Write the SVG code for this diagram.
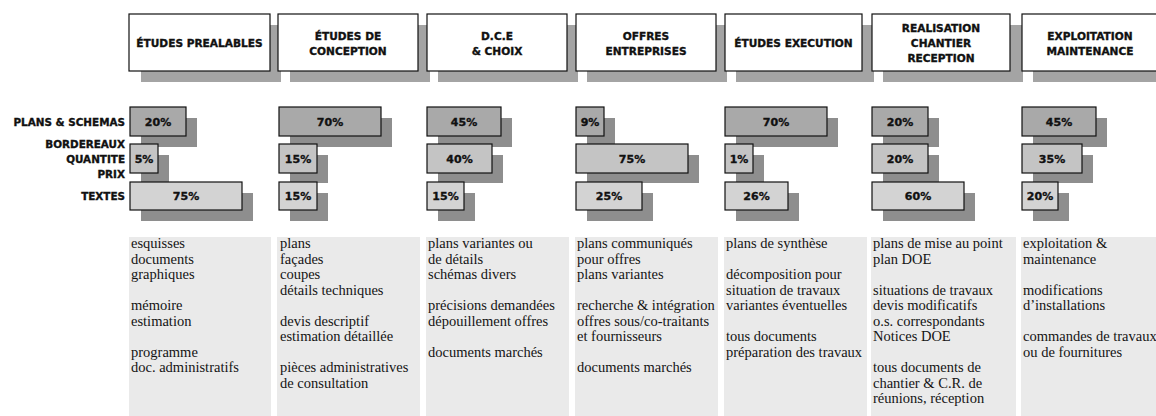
<svg xmlns="http://www.w3.org/2000/svg" width="1156" height="416" viewBox="0 0 1156 416">
<style>
.hbox{fill:#fff;stroke:#111;stroke-width:1.2}
.hsh{fill:#a4a4a4}
.ht{font-family:"DejaVu Sans",sans-serif;font-weight:bold;font-size:10.6px;fill:#111;stroke:#111;stroke-width:0.35;text-anchor:middle}
.lab{font-family:"DejaVu Sans",sans-serif;font-weight:bold;font-size:10.4px;fill:#111;stroke:#111;stroke-width:0.35;text-anchor:end}
.pct{font-family:"DejaVu Sans",sans-serif;font-weight:bold;font-size:11px;fill:#111;stroke:#111;stroke-width:0.35;text-anchor:middle}
.bsh{fill:#8e8e8e}
.b1{fill:#a9a9a9;stroke:#111;stroke-width:1.2}
.b2{fill:#c4c4c4;stroke:#111;stroke-width:1.2}
.b3{fill:#d3d3d3;stroke:#111;stroke-width:1.2}
.pan{fill:#eaeaea}
.tx{font-family:"Liberation Serif","Times New Roman",serif;font-size:14.5px;fill:#141414}
</style>
<rect width="1156" height="416" fill="#fff"/>

<g id="header-shadows">
<rect class="hsh" x="141" y="25" width="140" height="57"/>
<rect class="hsh" x="290" y="25" width="140" height="57"/>
<rect class="hsh" x="438" y="25" width="140" height="57"/>
<rect class="hsh" x="587" y="25" width="140" height="57"/>
<rect class="hsh" x="736" y="25" width="138" height="57"/>
<rect class="hsh" x="883" y="25" width="140" height="57"/>
<rect class="hsh" x="1033" y="25" width="140" height="57"/>
</g>

<g id="h1"><rect class="hbox" x="129" y="14" width="141" height="57"/><text class="ht" x="199.5" y="47">ÉTUDES PREALABLES</text></g>
<g id="h2"><rect class="hbox" x="278" y="14" width="140" height="57"/><text class="ht" x="348" y="39.5">ÉTUDES DE</text><text class="ht" x="348" y="54.5">CONCEPTION</text></g>
<g id="h3"><rect class="hbox" x="427" y="14" width="140" height="57"/><text class="ht" x="497" y="39.5">D.C.E</text><text class="ht" x="497" y="54.5">&amp; CHOIX</text></g>
<g id="h4"><rect class="hbox" x="576" y="14" width="140" height="57"/><text class="ht" x="646" y="39.5">OFFRES</text><text class="ht" x="646" y="54.5">ENTREPRISES</text></g>
<g id="h5"><rect class="hbox" x="725" y="14" width="137" height="57"/><text class="ht" x="793.5" y="47">ÉTUDES EXECUTION</text></g>
<g id="h6"><rect class="hbox" x="872" y="14" width="138" height="57"/><text class="ht" x="941" y="31.5">REALISATION</text><text class="ht" x="941" y="46.5">CHANTIER</text><text class="ht" x="941" y="61.5">RECEPTION</text></g>
<g id="h7"><rect class="hbox" x="1022" y="14" width="140" height="57"/><text class="ht" x="1090" y="39.5">EXPLOITATION</text><text class="ht" x="1090" y="54.5">MAINTENANCE</text></g>

<g id="row-labels">
<text class="lab" x="125" y="126">PLANS &amp; SCHEMAS</text>
<text class="lab" x="125" y="148">BORDEREAUX</text>
<text class="lab" x="125" y="163">QUANTITE</text>
<text class="lab" x="125" y="178">PRIX</text>
<text class="lab" x="125" y="200">TEXTES</text>
</g>

<g id="bars-row1">
<rect class="bsh" x="141" y="118" width="56" height="29"/><rect class="b1" x="130" y="107" width="56" height="29"/><text class="pct" x="158" y="125.5">20%</text>
<rect class="bsh" x="290" y="118" width="102" height="29"/><rect class="b1" x="279" y="107" width="102" height="29"/><text class="pct" x="330" y="125.5">70%</text>
<rect class="bsh" x="438" y="118" width="74" height="29"/><rect class="b1" x="427" y="107" width="74" height="29"/><text class="pct" x="464" y="125.5">45%</text>
<rect class="bsh" x="587" y="118" width="28" height="29"/><rect class="b1" x="576" y="107" width="28" height="29"/><text class="pct" x="590" y="125.5">9%</text>
<rect class="bsh" x="736" y="118" width="102" height="29"/><rect class="b1" x="725" y="107" width="102" height="29"/><text class="pct" x="776" y="125.5">70%</text>
<rect class="bsh" x="883" y="118" width="56" height="29"/><rect class="b1" x="872" y="107" width="56" height="29"/><text class="pct" x="900" y="125.5">20%</text>
<rect class="bsh" x="1033" y="118" width="74" height="29"/><rect class="b1" x="1022" y="107" width="74" height="29"/><text class="pct" x="1059" y="125.5">45%</text>
</g>
<g id="bars-row2">
<rect class="bsh" x="141" y="155" width="28" height="28"/><rect class="b2" x="130" y="144" width="28" height="29"/><text class="pct" x="144" y="162.5">5%</text>
<rect class="bsh" x="290" y="155" width="38" height="28"/><rect class="b2" x="279" y="144" width="38" height="29"/><text class="pct" x="298" y="162.5">15%</text>
<rect class="bsh" x="438" y="155" width="65" height="28"/><rect class="b2" x="427" y="144" width="65" height="29"/><text class="pct" x="459.5" y="162.5">40%</text>
<rect class="bsh" x="587" y="155" width="112" height="28"/><rect class="b2" x="576" y="144" width="112" height="29"/><text class="pct" x="632" y="162.5">75%</text>
<rect class="bsh" x="736" y="155" width="28" height="28"/><rect class="b2" x="725" y="144" width="28" height="29"/><text class="pct" x="739" y="162.5">1%</text>
<rect class="bsh" x="883" y="155" width="56" height="28"/><rect class="b2" x="872" y="144" width="56" height="29"/><text class="pct" x="900" y="162.5">20%</text>
<rect class="bsh" x="1033" y="155" width="60" height="28"/><rect class="b2" x="1022" y="144" width="60" height="29"/><text class="pct" x="1052" y="162.5">35%</text>
</g>
<g id="bars-row3">
<rect class="bsh" x="141" y="193" width="112" height="28"/><rect class="b3" x="130" y="182" width="112" height="28"/><text class="pct" x="186" y="200">75%</text>
<rect class="bsh" x="290" y="193" width="38" height="28"/><rect class="b3" x="279" y="182" width="38" height="28"/><text class="pct" x="298" y="200">15%</text>
<rect class="bsh" x="438" y="193" width="37" height="28"/><rect class="b3" x="427" y="182" width="37" height="28"/><text class="pct" x="445.5" y="200">15%</text>
<rect class="bsh" x="587" y="193" width="66" height="28"/><rect class="b3" x="576" y="182" width="66" height="28"/><text class="pct" x="609" y="200">25%</text>
<rect class="bsh" x="736" y="193" width="63" height="28"/><rect class="b3" x="725" y="182" width="63" height="28"/><text class="pct" x="756.5" y="200">26%</text>
<rect class="bsh" x="883" y="193" width="92" height="28"/><rect class="b3" x="872" y="182" width="92" height="28"/><text class="pct" x="918" y="200">60%</text>
<rect class="bsh" x="1033" y="193" width="36" height="28"/><rect class="b3" x="1022" y="182" width="36" height="28"/><text class="pct" x="1040" y="200">20%</text>
</g>

<g id="panel1"><rect class="pan" x="129" y="237" width="142" height="179"/>
<text class="tx" x="131" y="248">esquisses</text><text class="tx" x="131" y="263.5">documents</text><text class="tx" x="131" y="279">graphiques</text>
<text class="tx" x="131" y="310">mémoire</text><text class="tx" x="131" y="325.5">estimation</text>
<text class="tx" x="131" y="356.5">programme</text><text class="tx" x="131" y="372">doc. administratifs</text></g>

<g id="panel2"><rect class="pan" x="277" y="237" width="143" height="179"/>
<text class="tx" x="280" y="248">plans</text><text class="tx" x="280" y="263.5">façades</text><text class="tx" x="280" y="279">coupes</text><text class="tx" x="280" y="294.5">détails techniques</text>
<text class="tx" x="280" y="325.5">devis descriptif</text><text class="tx" x="280" y="341">estimation détaillée</text>
<text class="tx" x="280" y="372">pièces administratives</text><text class="tx" x="280" y="387.5">de consultation</text></g>

<g id="panel3"><rect class="pan" x="426" y="237" width="143" height="179"/>
<text class="tx" x="428" y="248">plans variantes ou</text><text class="tx" x="428" y="263.5">de détails</text><text class="tx" x="428" y="279">schémas divers</text>
<text class="tx" x="428" y="310">précisions demandées</text><text class="tx" x="428" y="325.5">dépouillement offres</text>
<text class="tx" x="428" y="356.5">documents marchés</text></g>

<g id="panel4"><rect class="pan" x="575" y="237" width="143" height="179"/>
<text class="tx" x="577" y="248">plans communiqués</text><text class="tx" x="577" y="263.5">pour offres</text><text class="tx" x="577" y="279">plans variantes</text>
<text class="tx" x="577" y="310">recherche &amp; intégration</text><text class="tx" x="577" y="325.5">offres sous/co-traitants</text><text class="tx" x="577" y="341">et fournisseurs</text>
<text class="tx" x="577" y="372">documents marchés</text></g>

<g id="panel5"><rect class="pan" x="724" y="237" width="143" height="179"/>
<text class="tx" x="726" y="248">plans de synthèse</text>
<text class="tx" x="726" y="279">décomposition pour</text><text class="tx" x="726" y="294.5">situation de travaux</text><text class="tx" x="726" y="310">variantes éventuelles</text>
<text class="tx" x="726" y="341">tous documents</text><text class="tx" x="726" y="356.5">préparation des travaux</text></g>

<g id="panel6"><rect class="pan" x="871" y="237" width="145" height="179"/>
<text class="tx" x="873" y="248">plans de mise au point</text><text class="tx" x="873" y="263.5">plan DOE</text>
<text class="tx" x="873" y="294.5">situations de travaux</text><text class="tx" x="873" y="310">devis modificatifs</text><text class="tx" x="873" y="325.5">o.s. correspondants</text><text class="tx" x="873" y="341">Notices DOE</text>
<text class="tx" x="873" y="372">tous documents de</text><text class="tx" x="873" y="387.5">chantier &amp; C.R. de</text><text class="tx" x="873" y="403">réunions, réception</text></g>

<g id="panel7"><rect class="pan" x="1021" y="237" width="135" height="179"/>
<text class="tx" x="1023" y="248">exploitation &amp;</text><text class="tx" x="1023" y="263.5">maintenance</text>
<text class="tx" x="1023" y="294.5">modifications</text><text class="tx" x="1023" y="310">d’installations</text>
<text class="tx" x="1023" y="341">commandes de travaux</text><text class="tx" x="1023" y="356.5">ou de fournitures</text></g>
</svg>
